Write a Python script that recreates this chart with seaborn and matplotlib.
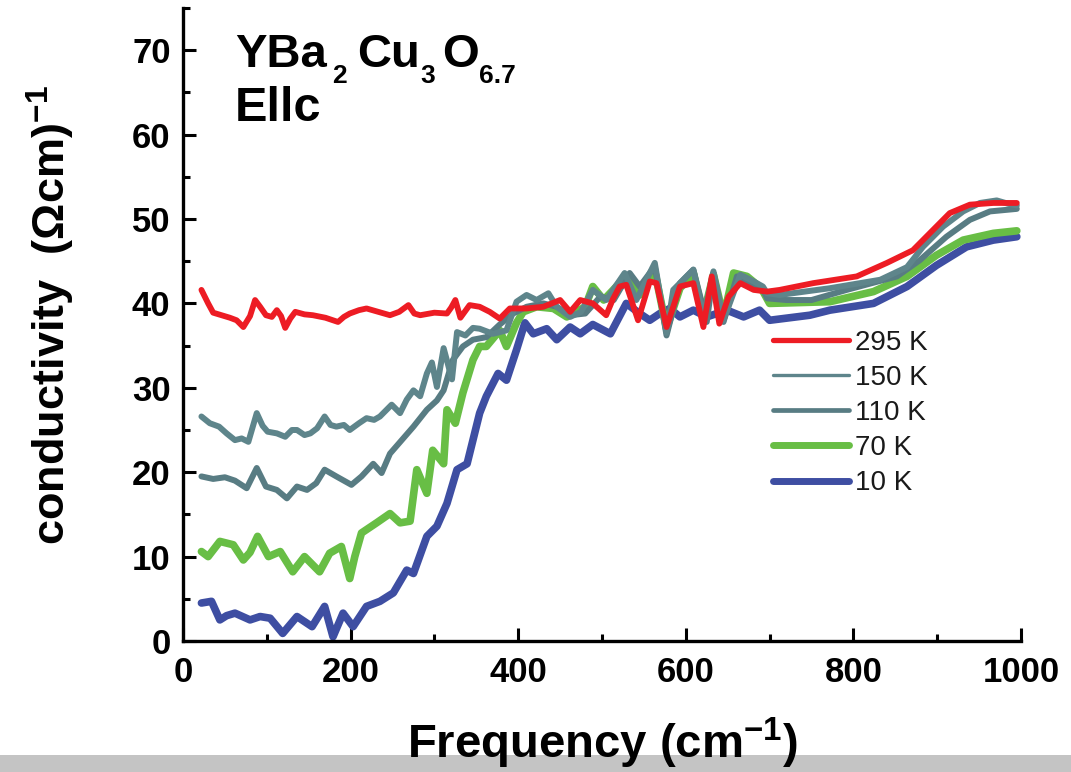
import matplotlib
matplotlib.use('Agg')
import matplotlib.pyplot as plt
import seaborn as sns
import pandas as pd
from matplotlib.lines import Line2D
from matplotlib.patches import Rectangle
from matplotlib.ticker import MultipleLocator

# ---------------- data ----------------
f295 = [22, 30, 36, 46, 56, 64, 72, 80, 86, 92,
        99, 106, 112, 117, 122, 128, 134, 145, 155, 170,
        185, 192, 199, 210, 219, 233, 247, 258, 269, 276,
        283, 300, 315, 320, 325, 331, 342, 354, 366, 378,
        390, 410, 430, 450, 462, 474, 489, 505, 513, 521,
        529, 543, 557, 565, 577, 593, 609, 621, 631, 640,
        651, 665, 681, 697, 712, 752, 804, 840, 871, 895,
        915, 939, 967, 995]
s295 = [41.6, 40.0, 38.9, 38.6, 38.3, 38.0, 37.2, 38.5, 40.4, 39.6,
        38.6, 38.4, 39.2, 38.5, 37.1, 38.2, 39.0, 38.7, 38.6, 38.3,
        37.8, 38.4, 38.8, 39.2, 39.4, 39.0, 38.6, 39.0, 39.8, 38.8,
        38.6, 38.9, 38.8, 39.5, 40.4, 38.3, 39.8, 39.6, 39.0, 38.2,
        39.4, 39.4, 39.6, 40.4, 39.0, 40.4, 40.0, 38.6, 40.5, 42.0,
        42.2, 38.0, 42.6, 42.4, 37.2, 42.0, 42.4, 37.2, 43.2, 37.6,
        40.8, 42.4, 41.6, 41.4, 41.6, 42.4, 43.2, 44.8, 46.3, 48.7,
        50.7, 51.7, 51.9, 51.9]

f150 = [22, 32, 43, 52, 62, 70, 78, 88, 95, 101,
        112, 122, 130, 136, 145, 152, 160, 169, 176, 183,
        192, 199, 210, 219, 228, 235, 249, 259, 267, 275,
        283, 291, 297, 303, 311, 321, 327, 337, 346, 354,
        370, 386, 398, 410, 422, 436, 446, 462, 475, 489,
        505, 527, 541, 563, 577, 585, 609, 621, 633, 645,
        665, 681, 692, 697, 712, 772, 832, 864, 883, 907,
        931, 951, 971, 985, 995]
s150 = [26.6, 25.8, 25.4, 24.6, 23.8, 24.0, 23.6, 27.0, 25.5, 24.8,
        24.6, 24.2, 25.0, 25.0, 24.4, 24.6, 25.2, 26.6, 25.6, 25.4,
        25.6, 25.0, 25.8, 26.4, 26.2, 26.6, 28.0, 27.0, 28.6, 29.7,
        29.0, 31.7, 33.0, 30.1, 34.7, 31.0, 36.6, 36.2, 37.1, 37.0,
        36.4, 36.8, 40.2, 41.0, 40.4, 41.2, 39.6, 38.4, 39.0, 41.6,
        40.4, 43.6, 40.4, 44.8, 36.5, 41.6, 44.0, 38.4, 43.8, 38.0,
        43.4, 42.6, 42.0, 41.2, 41.0, 41.8, 42.8, 44.3, 46.7, 49.1,
        50.9, 51.9, 52.2, 51.8, 51.6]

f110 = [22, 36, 50, 62, 76, 88, 99, 112, 124, 136,
        148, 159, 169, 183, 201, 213, 227, 237, 247, 261,
        275, 291, 303, 311, 322, 334, 346, 362, 378, 394,
        410, 430, 446, 462, 480, 498, 514, 533, 545, 563,
        577, 593, 609, 625, 633, 645, 661, 673, 690, 697,
        720, 750, 792, 852, 879, 911, 939, 963, 995]
s110 = [19.5, 19.2, 19.4, 19.0, 18.1, 20.5, 18.3, 17.9, 16.9, 18.3,
        17.9, 18.7, 20.3, 19.5, 18.5, 19.5, 21.0, 19.9, 22.2, 23.8,
        25.4, 27.4, 28.5, 29.7, 33.3, 34.9, 35.7, 36.0, 37.5, 38.8,
        39.6, 40.0, 39.6, 38.6, 38.8, 40.8, 40.4, 43.6, 42.0, 44.4,
        36.2, 42.4, 44.0, 37.8, 43.6, 37.8, 43.2, 42.4, 42.0, 40.6,
        40.4, 40.4, 41.6, 43.2, 45.1, 47.9, 49.9, 50.9, 51.2]

f70 = [22, 30, 44, 60, 72, 80, 89, 102, 116, 131,
       145, 163, 175, 189, 199, 205, 213, 231, 247, 259,
       271, 279, 291, 298, 311, 315, 325, 334, 346, 354,
       362, 378, 386, 398, 406, 422, 442, 458, 480, 489,
       502, 521, 533, 545, 563, 577, 593, 609, 621, 633,
       645, 657, 673, 690, 700, 772, 824, 864, 899, 931,
       967, 995]
s70 = [10.6, 10.0, 11.8, 11.4, 9.6, 10.5, 12.4, 10.0, 10.6, 8.2,
       10.0, 8.2, 10.4, 11.2, 7.4, 10.0, 12.8, 14.0, 15.1, 14.0,
       14.2, 20.3, 17.5, 22.6, 21.0, 27.4, 25.8, 29.4, 33.3, 34.9,
       34.9, 36.8, 34.9, 37.7, 39.0, 39.6, 39.4, 38.4, 39.6, 42.0,
       40.4, 42.4, 43.0, 41.0, 43.8, 37.0, 41.8, 43.6, 38.6, 43.4,
       38.4, 43.6, 43.2, 41.8, 40.0, 40.2, 41.4, 43.2, 45.7, 47.5,
       48.3, 48.6]

f10 = [22, 34, 44, 52, 62, 80, 92, 104, 119, 136,
       154, 169, 179, 191, 203, 219, 235, 251, 267, 275,
       291, 303, 315, 327, 339, 346, 354, 362, 376, 386,
       398, 408, 418, 434, 446, 462, 474, 489, 510, 529,
       545, 557, 569, 581, 593, 609, 625, 649, 669, 688,
       700, 748, 772, 824, 864, 899, 935, 967, 995]
s10 = [4.5, 4.7, 2.5, 3.0, 3.3, 2.5, 2.9, 2.7, 0.9, 2.9,
       1.7, 4.1, 0.5, 3.3, 1.7, 4.1, 4.7, 5.7, 8.4, 8.0,
       12.4, 13.6, 16.3, 20.3, 21.0, 23.8, 27.0, 29.0, 31.7, 30.9,
       34.5, 37.7, 36.4, 37.0, 35.7, 37.2, 36.4, 37.5, 36.4, 40.0,
       38.8, 38.0, 38.8, 39.4, 38.4, 39.2, 38.4, 39.2, 38.4, 39.2,
       38.0, 38.6, 39.2, 40.0, 42.0, 44.5, 46.7, 47.5, 47.9]

legend_labels = ["295 K", "150 K", "110 K", "70 K", "10 K"]
colors = {"295 K": "#ed1c24", "150 K": "#5e858b", "110 K": "#587c83",
          "70 K": "#68be45", "10 K": "#3e4ea2"}
line_w = {"295 K": 4.2, "150 K": 4.3, "110 K": 4.3, "70 K": 5.5, "10 K": 5.5}
legend_w = {"295 K": 3.8, "150 K": 2.4, "110 K": 3.4, "70 K": 5.0, "10 K": 5.0}

series = {"295 K": (f295, s295), "150 K": (f150, s150), "110 K": (f110, s110),
          "70 K": (f70, s70), "10 K": (f10, s10)}
draw_order = ["10 K", "70 K", "110 K", "150 K", "295 K"]

# ---------------- style ----------------
sns.set_theme(style="ticks")
plt.rcParams.update({
    "font.family": ["Liberation Sans", "DejaVu Sans"],
    "text.color": "black",
    "axes.labelcolor": "black",
    "xtick.color": "black",
    "ytick.color": "black",
    "mathtext.fontset": "custom",
    "mathtext.rm": "Liberation Sans:bold",
    "mathtext.bf": "Liberation Sans:bold",
    "mathtext.it": "Liberation Sans:bold",
    "mathtext.sf": "Liberation Sans:bold",
    "mathtext.default": "rm",
})

fig = plt.figure(figsize=(10.71, 7.72), dpi=100)
fig.patch.set_facecolor("white")
fig.patches.append(Rectangle((0, 0), 1, 17 / 772, transform=fig.transFigure,
                             facecolor="#c4c4c4", edgecolor="none", zorder=-5))
ax = fig.add_axes([183 / 1071, 131 / 772, 838 / 1071, 633 / 772])
ax.set_facecolor("none")

for lab in draw_order:
    fx, sy = series[lab]
    df = pd.DataFrame({"Frequency": fx, "sigma": sy})
    sns.lineplot(data=df, x="Frequency", y="sigma", ax=ax, color=colors[lab],
                 linewidth=line_w[lab], estimator=None, sort=False, legend=False,
                 solid_joinstyle="round", solid_capstyle="round")

ax.set_xlim(0, 1000)
ax.set_ylim(0, 75)
ax.xaxis.set_major_locator(MultipleLocator(200))
ax.xaxis.set_minor_locator(MultipleLocator(100))
ax.yaxis.set_major_locator(MultipleLocator(10))
ax.yaxis.set_minor_locator(MultipleLocator(5))
ax.set_yticks([0, 10, 20, 30, 40, 50, 60, 70])

for side in ["top", "right"]:
    ax.spines[side].set_visible(False)
for side in ["left", "bottom"]:
    ax.spines[side].set_linewidth(2.4)
    ax.spines[side].set_color("black")

ax.tick_params(which="major", direction="in", length=9.5, width=2.2,
               labelsize=25, colors="black")
ax.tick_params(which="minor", direction="in", length=5, width=2.2)
ax.tick_params(axis="x", which="major", pad=11)
ax.tick_params(axis="y", which="major", pad=9)
for t in ax.get_xticklabels() + ax.get_yticklabels():
    t.set_fontweight("bold")

ax.set_xlabel("Frequency (cm$^{-1}$)", fontsize=34, fontweight="bold")
ax.xaxis.label.set_va("baseline")
ax.xaxis.set_label_coords(0.5, -0.185)
ax.set_ylabel("conductivity  (\u03a9cm)$^{-1}$", fontsize=32.5, fontweight="bold")
ax.yaxis.set_label_coords(-0.127, 0.515)

# chemical formula, built from pieces (large subscripts like the original)
def axx(px):
    return (px - 183) / 838

def axy(py):
    return (641 - py) / 633

formula = [("YBa", 235, 67, 34), ("2", 332, 83, 19), ("Cu", 357, 67, 34),
           ("3", 420, 83, 19), ("O", 442, 67, 34), ("6.7", 479, 83, 19)]
for txt, px, py, fs in formula:
    ax.text(axx(px), axy(py), txt, transform=ax.transAxes, fontsize=fs,
            fontweight="bold", ha="left", va="baseline")
ax.text(axx(235), axy(121), "Ellc", transform=ax.transAxes,
        fontsize=35, fontweight="bold", ha="left", va="baseline")

handles = [Line2D([0], [0], color=colors[l], linewidth=legend_w[l],
                  solid_capstyle="round") for l in legend_labels]
leg = ax.legend(handles, legend_labels, loc="upper left",
                bbox_to_anchor=(0.704, 0.492), frameon=False, fontsize=20,
                handlelength=2.75, handletextpad=0.2, labelspacing=0.33,
                borderpad=0, borderaxespad=0)
for t in leg.get_texts():
    t.set_color("#1a1a1a")

fig.savefig("out.png", dpi=100)
